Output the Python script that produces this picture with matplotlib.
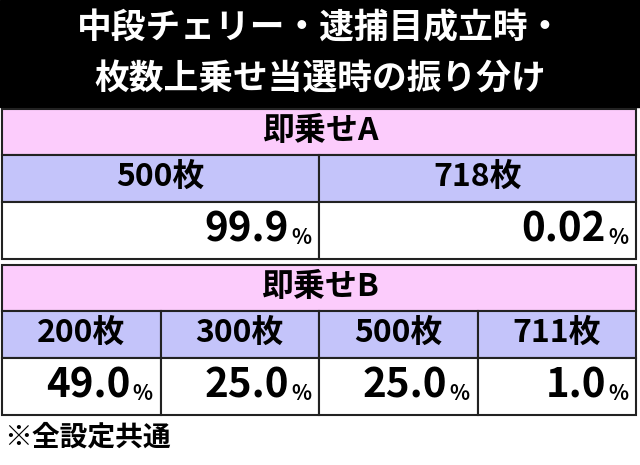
import matplotlib
matplotlib.use("Agg")
import matplotlib.pyplot as plt
from matplotlib.patches import Rectangle

plt.rcParams['font.family'] = ['Noto Sans CJK JP', 'DejaVu Sans']

title_lines = ["中段チェリー・逮捕目成立時・", "枚数上乗せ当選時の振り分け"]
table_a_name = "即乗せA"
table_a_labels = ["500枚", "718枚"]
table_a_values = ["99.9", "0.02"]
table_b_name = "即乗せB"
table_b_labels = ["200枚", "300枚", "500枚", "711枚"]
table_b_values = ["49.0", "25.0", "25.0", "1.0"]
footnote = "※全設定共通"

PINK = "#FCCCFC"
LAV = "#C4C4FA"

fig = plt.figure(figsize=(6.4, 4.65), dpi=100)
ax = fig.add_axes([0, 0, 1, 1])
ax.set_xlim(0, 640)
ax.set_ylim(465, 0)
ax.axis('off')
fig.patch.set_facecolor('white')

ax.add_patch(Rectangle((0, 0), 640, 107, color='black'))
ax.text(320, 28, title_lines[0], color='white', fontsize=25, fontweight='bold', ha='center', va='center')
ax.text(320, 78, title_lines[1], color='white', fontsize=25, fontweight='bold', ha='center', va='center')

def cell(x0, y0, w, h, fc):
    ax.add_patch(Rectangle((x0, y0), w, h, facecolor=fc, edgecolor='#222222', lw=1.5))

def table(top, name, labels, values):
    L, R = 2, 636
    W = R - L
    cell(L, top, W, 46, PINK)
    ax.text(320, top + 22, name, fontsize=23, fontweight='bold', ha='center', va='center')
    n = len(labels)
    cw = W / n
    for i, (lab, val) in enumerate(zip(labels, values)):
        x0 = L + i * cw
        cell(x0, top + 46, cw, 47, LAV)
        ax.text(x0 + cw / 2, top + 68, lab, fontsize=23, fontweight='bold', ha='center', va='center')
        cell(x0, top + 93, cw, 57, 'white')
        ax.text(x0 + cw - 30, top + 121, val, fontsize=29, fontweight='bold', ha='right', va='center')
        ax.text(x0 + cw - 8, top + 128, "%", fontsize=15, fontweight='bold', ha='right', va='center')

table(109, table_a_name, table_a_labels, table_a_values)
table(265, table_b_name, table_b_labels, table_b_values)
ax.text(4, 438, footnote, fontsize=20, fontweight='bold', ha='left', va='center')

fig.savefig("out.png", dpi=100)
